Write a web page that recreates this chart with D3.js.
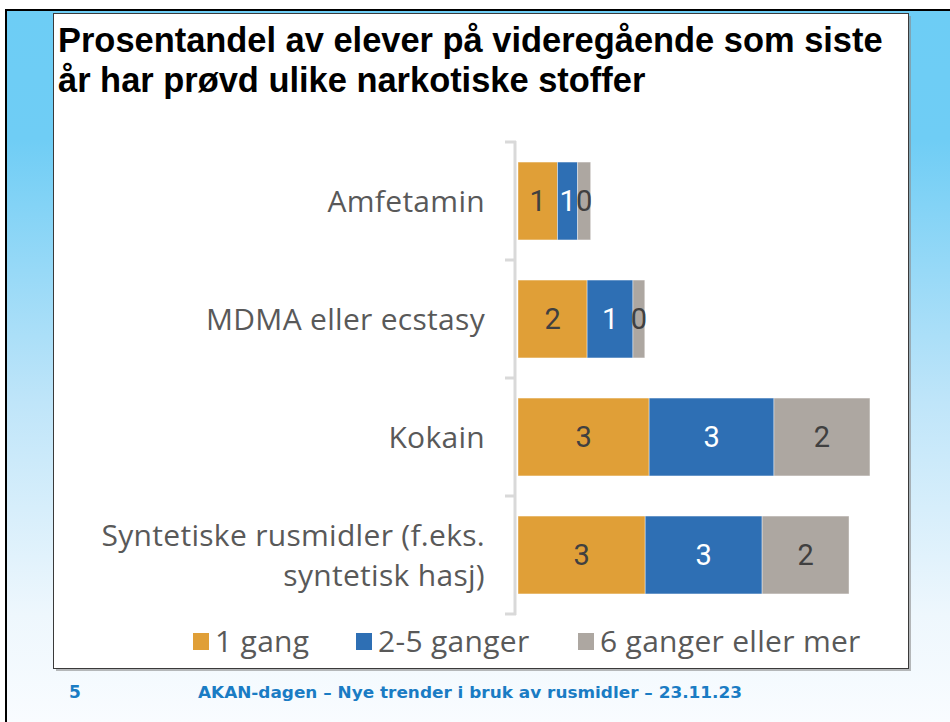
<!DOCTYPE html>
<html>
<head>
<meta charset="utf-8">
<script src="https://cdn.jsdelivr.net/npm/d3@7"></script>
<style>
  html, body { margin: 0; padding: 0; background: #fff; }
  svg { display: block; }
</style>
</head>
<body>
<script>
// data (percent of students)
const categories = ["Amfetamin", "MDMA eller ecstasy", "Kokain", "Syntetiske rusmidler (f.eks.|syntetisk hasj)"];
const seriesNames = ["1 gang", "2-5 ganger", "6 ganger eller mer"];
const once = [1.0, 1.75, 3.32, 3.22];
const twoToFive = [0.51, 1.16, 3.16, 2.96];
const sixPlus = [0.33, 0.30, 2.43, 2.20];
const colors = ["#e09f37", "#2e6fb4", "#ada7a1"];
const labelColors = ["#404040", "#ffffff", "#404040"];

const W = 950, H = 722;

const svg = d3.select("body").append("svg")
    .attr("width", W)
    .attr("height", H);

const defs = svg.append("defs");
const grad = defs.append("linearGradient")
    .attr("id", "bg").attr("x1", 0).attr("y1", 0).attr("x2", 0).attr("y2", 1);
grad.append("stop").attr("offset", 0).attr("stop-color", "#6dcdf5");
grad.append("stop").attr("offset", 0.18).attr("stop-color", "#6fcdf5");
grad.append("stop").attr("offset", 0.55).attr("stop-color", "#bfe5f9");
grad.append("stop").attr("offset", 0.85).attr("stop-color", "#eef7fd");
grad.append("stop").attr("offset", 1).attr("stop-color", "#f9fcff");

// slide background + screenshot frame
svg.append("rect").attr("width", W).attr("height", H).attr("fill", "#fff");
svg.append("rect").attr("x", 5).attr("y", 9).attr("width", W - 5).attr("height", H - 9).attr("fill", "#000");
svg.append("rect").attr("x", 7).attr("y", 11).attr("width", W - 7).attr("height", H - 11).attr("fill", "url(#bg)");

// white panel with shadow
svg.append("rect").attr("x", 56).attr("y", 16).attr("width", 855).attr("height", 655)
    .attr("fill", "#8a8a8a").attr("opacity", 0.6);
svg.append("rect").attr("x", 53.5).attr("y", 13.5).attr("width", 855).attr("height", 655)
    .attr("fill", "#fff").attr("stroke", "#3a3a3a").attr("stroke-width", 1);

// title
const titleLines = ["Prosentandel av elever på videregående som siste", "år har prøvd ulike narkotiske stoffer"];
const title = svg.append("g")
    .style("font-family", "'Liberation Sans', Arial, sans-serif")
    .style("font-weight", "bold")
    .style("font-size", "32px")
    .attr("fill", "#000");
const t1 = title.append("text").attr("x", 58).attr("y", 52).text(titleLines[0]);
const len1 = t1.node().getComputedTextLength();
const fs = 32 * 825 / len1;
title.style("font-size", fs + "px");
title.append("text").attr("x", 58).attr("y", 92).text(titleLines[1]);

// scales
const y = d3.scaleBand()
    .domain(categories)
    .range([142, 614])
    .paddingInner(0.34)
    .paddingOuter(0.17);

const x = d3.scaleLinear()
    .domain([0, 10])
    .range([518, 913]);

const table = categories.map((c, i) => ({ cat: c, vals: [once[i], twoToFive[i], sixPlus[i]] }));
const stacked = d3.stack().keys([0, 1, 2]).value((d, k) => d.vals[k])(table);

// axis line with bracket ticks
const axis = svg.append("g");
axis.append("line")
    .attr("x1", 515).attr("x2", 515)
    .attr("y1", 141).attr("y2", 615)
    .attr("stroke", "#d9d9d9").attr("stroke-width", 3);
const tickYs = [142].concat(categories.map(c => y(c) + y.bandwidth() + y.step() * y.paddingInner() / 2));
tickYs[tickYs.length - 1] = 614;
axis.selectAll(".tick")
    .data(tickYs)
    .join("line")
    .attr("class", "tick")
    .attr("x1", 505).attr("x2", 516)
    .attr("y1", d => d).attr("y2", d => d)
    .attr("stroke", "#d9d9d9").attr("stroke-width", 3);

// bars
const layers = svg.selectAll(".layer")
    .data(stacked)
    .join("g")
    .attr("class", "layer")
    .attr("fill", (d, i) => colors[i]);

layers.selectAll("rect")
    .data(d => d)
    .join("rect")
    .attr("x", d => x(d[0]))
    .attr("y", d => y(d.data.cat))
    .attr("width", d => x(d[1]) - x(d[0]))
    .attr("height", y.bandwidth())
    .attr("stroke", "#ffffff")
    .attr("stroke-opacity", 0.5)
    .attr("stroke-width", 0.8);

layers.selectAll("text")
    .data(d => d)
    .join("text")
    .attr("x", d => (x(d[0]) + x(d[1])) / 2)
    .attr("y", d => y(d.data.cat) + y.bandwidth() / 2)
    .attr("dy", "0.36em")
    .attr("text-anchor", "middle")
    .style("font-family", "Roboto, sans-serif")
    .style("font-size", "29px")
    .attr("fill", function() { return labelColors[stacked.indexOf(d3.select(this.parentNode).datum())]; })
    .text(d => Math.round(d[1] - d[0]));

// category labels
const catLabels = svg.append("g")
    .style("font-family", "'Open Sans', sans-serif")
    .style("font-size", "30px")
    .style("letter-spacing", "0.3px")
    .attr("fill", "#595959")
    .attr("text-anchor", "end");

categories.forEach(c => {
    const lines = c.split("|");
    const cy = y(c) + y.bandwidth() / 2;
    const lh = 40;
    lines.forEach((ln, j) => {
        catLabels.append("text")
            .attr("x", 485)
            .attr("y", cy + (j - (lines.length - 1) / 2) * lh)
            .attr("dy", "0.36em")
            .text(ln);
    });
});

// legend
const legendX = [193, 356, 578];
const legend = svg.append("g");
seriesNames.forEach((s, i) => {
    legend.append("rect")
        .attr("x", legendX[i]).attr("y", 633)
        .attr("width", 16).attr("height", 17)
        .attr("fill", colors[i]);
    legend.append("text")
        .attr("x", legendX[i] + 22).attr("y", 652)
        .style("font-family", "'Open Sans', sans-serif")
        .style("font-size", "30px")
        .style("letter-spacing", "0.3px")
        .attr("fill", "#595959")
        .text(s);
});

// footer
const footer = svg.append("g")
    .style("font-family", "'DejaVu Sans', Verdana, sans-serif")
    .style("font-weight", "bold")
    .style("font-size", "15px")
    .attr("fill", "#1a7cc4");
footer.append("text").attr("x", 69).attr("y", 698).style("font-size", "17px").text("5");
footer.append("text").attr("x", 198).attr("y", 698)
    .attr("textLength", 544).attr("lengthAdjust", "spacingAndGlyphs")
    .text("AKAN-dagen  –  Nye trender i bruk av rusmidler  –  23.11.23");
</script>
</body>
</html>
